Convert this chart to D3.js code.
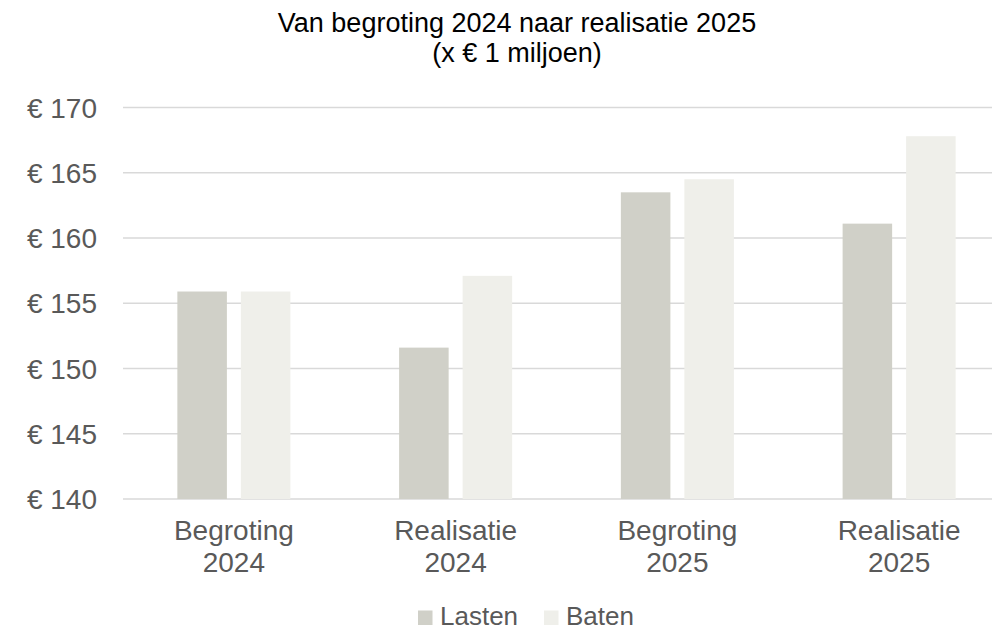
<!DOCTYPE html>
<html>
  <head>
    <meta charset="utf-8">
    <script src="https://d3js.org/d3.v7.min.js"></script>
    <style>
      body { margin: 0; background: #fff; }
      svg { font-family: "Liberation Sans", Arial, sans-serif; }
    </style>
  </head>
<body>
  <script type="text/javascript">
    // data
    var categories = [["Begroting", "2024"], ["Realisatie", "2024"], ["Begroting", "2025"], ["Realisatie", "2025"]];
    var series = ["Lasten", "Baten"];
    var lasten = [155.9, 151.6, 163.5, 161.1];
    var baten = [155.9, 157.1, 164.5, 167.8];
    var yTicks = [140, 145, 150, 155, 160, 165, 170];
    var colors = { Lasten: "#d0d0c8", Baten: "#efefea" };

    var width = 992, height = 630;
    var plotLeft = 123, plotRight = 1010, plotTop = 107.5, plotBottom = 499;

    var svg = d3.select("body").append("svg")
        .attr("width", width)
        .attr("height", height);

    // title
    var title = svg.append("text")
        .attr("text-anchor", "middle")
        .attr("fill", "#000")
        .style("font-size", "27px");
    title.append("tspan").attr("x", 517).attr("y", 32).text("Van begroting 2024 naar realisatie 2025");
    title.append("tspan").attr("x", 517).attr("y", 62).text("(x € 1 miljoen)");

    var keys = categories.map(function(d) { return d.join(" "); });

    var x = d3.scaleBand().domain(keys).range([plotLeft, plotRight]);
    var xs = d3.scaleBand().domain(series).range([0, x.bandwidth()])
        .paddingInner(0.22).paddingOuter(0.856);
    var y = d3.scaleLinear().domain([140, 170]).range([plotBottom, plotTop]);

    // gridlines
    svg.append("g").selectAll("line")
      .data(yTicks)
      .enter().append("line")
        .attr("x1", plotLeft).attr("x2", plotRight)
        .attr("y1", function(d) { return y(d); })
        .attr("y2", function(d) { return y(d); })
        .attr("stroke", "#d9d9d9")
        .attr("stroke-width", 1.5);

    // y labels
    svg.append("g").selectAll("text")
      .data(yTicks)
      .enter().append("text")
        .attr("x", 97)
        .attr("y", function(d) { return y(d); })
        .attr("dy", "0.36em")
        .attr("text-anchor", "end")
        .attr("fill", "#595959")
        .style("font-size", "28px")
        .text(function(d) { return "€ " + d; });

    // bars
    var rows = keys.map(function(k, i) {
      return { key: k, values: [{ s: "Lasten", v: lasten[i] }, { s: "Baten", v: baten[i] }] };
    });

    var groups = svg.append("g").selectAll("g")
      .data(rows)
      .enter().append("g")
        .attr("transform", function(d) { return "translate(" + x(d.key) + ",0)"; });

    groups.selectAll("rect")
      .data(function(d) { return d.values; })
      .enter().append("rect")
        .attr("x", function(d) { return xs(d.s); })
        .attr("width", xs.bandwidth())
        .attr("y", function(d) { return y(d.v); })
        .attr("height", function(d) { return plotBottom - y(d.v); })
        .attr("fill", function(d) { return colors[d.s]; });

    // category labels
    var cat = svg.append("g").selectAll("text")
      .data(categories)
      .enter().append("text")
        .attr("text-anchor", "middle")
        .attr("fill", "#595959")
        .style("font-size", "28px");
    cat.append("tspan")
        .attr("x", function(d, i) { return x(keys[i]) + x.bandwidth() / 2; })
        .attr("y", 540)
        .text(function(d) { return d[0]; });
    cat.append("tspan")
        .attr("x", function(d, i) { return x(keys[i]) + x.bandwidth() / 2; })
        .attr("y", 572)
        .text(function(d) { return d[1]; });

    // legend
    var legX = [418, 544];
    var legend = svg.append("g").selectAll("g")
      .data(series)
      .enter().append("g")
        .attr("transform", function(d, i) { return "translate(" + legX[i] + ",610.5)"; });
    legend.append("rect")
        .attr("width", 14.5).attr("height", 14.5)
        .attr("fill", function(d) { return colors[d]; });
    legend.append("text")
        .attr("x", 22).attr("y", 14.5)
        .attr("fill", "#595959")
        .style("font-size", "26px")
        .text(function(d) { return d; });
  </script>
</body>
</html>
